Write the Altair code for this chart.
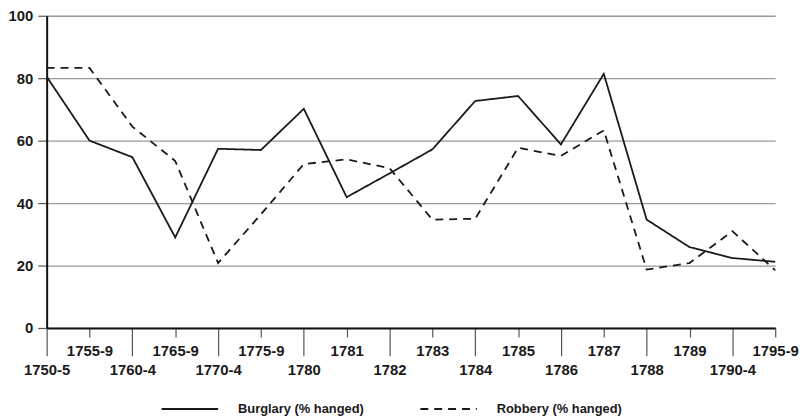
import json
import altair as alt
import pandas as pd

# ---- data ----
periods = ["1750-5", "1755-9", "1760-4", "1765-9", "1770-4", "1775-9", "1780", "1781",
           "1782", "1783", "1784", "1785", "1786", "1787", "1788", "1789", "1790-4", "1795-9"]
burglary = [80.5, 60.0, 54.7, 29.0, 57.4, 57.0, 70.2, 41.9, 49.5, 57.2,
            72.7, 74.3, 58.8, 81.4, 34.7, 25.9, 22.4, 21.2]
robbery = [83.3, 83.3, 64.5, 53.5, 20.8, 36.4, 52.5, 54.0, 51.2, 34.7,
           35.0, 57.7, 55.1, 63.3, 18.7, 20.8, 31.0, 18.5]
series_names = ["Burglary (% hanged)", "Robbery (% hanged)"]
upper_row = ["1755-9", "1765-9", "1775-9", "1781", "1783", "1785", "1787", "1789", "1795-9"]
y_ticks = [0, 20, 40, 60, 80, 100]

FONT = "Liberation Sans"
INK = "#1a1a1a"

df = pd.DataFrame({
    "period": periods * 2,
    "value": burglary + robbery,
    "series": [series_names[0]] * len(periods) + [series_names[1]] * len(periods),
})

upper_test = "indexof(" + json.dumps(upper_row) + ", datum.value) >= 0"

chart = alt.Chart(df).mark_line(color=INK, strokeWidth=1.8).encode(
    x=alt.X(
        "period:N",
        sort=periods,
        scale=alt.Scale(type="point", padding=0),
        axis=alt.Axis(
            title=None, labelAngle=0, labelAlign="center", labelFlush=False,
            labelBound=False, labelFont=FONT, labelFontSize=15,
            labelFontWeight="bold", labelColor=INK, labelPadding=7,
            labelOverlap=False,
            tickSize={"condition": {"test": upper_test, "value": 9}, "value": 28},
            tickColor="#555", tickWidth=1.2,
            domainColor="#111", domainWidth=2, grid=False,
        ),
    ),
    y=alt.Y(
        "value:Q",
        scale=alt.Scale(domain=[0, 100], nice=False),
        axis=alt.Axis(
            title=None, values=y_ticks, labelFont=FONT, labelFontSize=15,
            labelFontWeight="bold", labelColor=INK, labelPadding=5,
            tickSize=9, tickColor="#555", tickWidth=1.2,
            domainColor="#111", domainWidth=2,
            grid=True, gridColor="#9a9a9a", gridWidth=1.3,
        ),
    ),
    strokeDash=alt.StrokeDash(
        "series:N",
        scale=alt.Scale(domain=series_names, range=[[1, 0], [8, 6]]),
        legend=alt.Legend(
            title=None, orient="none", legendX=115, legendY=367,
            direction="horizontal", symbolType="stroke", symbolSize=3249,
            symbolStrokeWidth=2, symbolStrokeColor=INK,
            labelFont=FONT, labelFontSize=13, labelFontWeight="bold",
            labelColor=INK, labelOffset=19, columnPadding=52, padding=0,
        ),
    ),
).properties(
    width=735,
    height=315,
    autosize=alt.AutoSizeParams(type="none"),
    padding={"left": 39, "top": 6, "right": 25, "bottom": 89},
).configure_view(stroke=None)

chart.save("out.html", embed_options={"renderer": "svg", "actions": False})
